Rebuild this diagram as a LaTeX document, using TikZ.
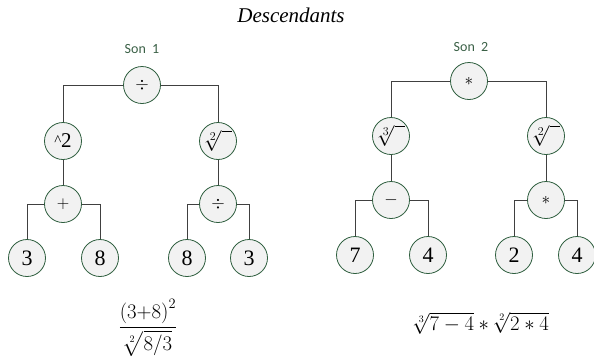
\documentclass[tikz,border=0pt]{standalone}
\usepackage{amsmath}
\usepackage{fontspec}
\setmainfont{Liberation Serif}
\newfontfamily\carl{Carlito}
\begin{document}
\begin{tikzpicture}[x=1pt,y=-1pt,
  opnode/.style={circle,draw=nodegreen,fill=nodefill,line width=0.8pt,minimum size=37pt,inner sep=0pt},
  leafnode/.style={opnode,font=\fontsize{22}{22}\selectfont},
  symnode/.style={opnode,font=\fontsize{18}{18}\selectfont},
  rootnode/.style={opnode,font=\fontsize{20.74}{21}\selectfont},
  conn/.style={draw=linegray,line width=0.9pt},
  sonlabel/.style={font=\carl\fontsize{14}{14}\selectfont,text=labelgreen},
  formula/.style={font=\fontsize{20}{20}\selectfont}]
\definecolor{nodegreen}{HTML}{2E5E3E}
\definecolor{nodefill}{HTML}{F2F2F2}
\definecolor{linegray}{HTML}{404040}
\definecolor{labelgreen}{HTML}{3A6046}
\useasboundingbox (0,0) rectangle (594,360);

\node[font=\itshape\fontsize{21}{21}\selectfont] (title) at (291,15) {Descendants};

% Son 1
\node[sonlabel] (s1) at (142,49) {Son\ \ 1};
\node[symnode] (r1) at (142,85) {$\div$};
\node[opnode] (pw) at (63,141) {\raisebox{2pt}{\fontsize{15}{15}\selectfont\^{}}\hspace{-0.5pt}{\fontsize{21}{21}\selectfont 2}};
\node[rootnode] (sq1) at (218,141) {$\sqrt[2]{\hphantom{i}\,}$};
\node[symnode] (pl) at (63,204) {$+$};
\node[symnode] (dv) at (218,204) {$\div$};
\node[leafnode] (a3) at (27,258) {3};
\node[leafnode] (a8) at (100,258) {8};
\node[leafnode] (b8) at (187,258) {8};
\node[leafnode] (b3) at (249,258) {3};

\draw[conn] (r1.west) -| (pw.north);
\draw[conn] (r1.east) -| (sq1.north);
\draw[conn] (pw.south) -- (pl.north);
\draw[conn] (sq1.south) -- (dv.north);
\draw[conn] (pl.west) -| (a3.north);
\draw[conn] (pl.east) -| (a8.north);
\draw[conn] (dv.west) -| (b8.north);
\draw[conn] (dv.east) -| (b3.north);

\node[formula] (f1) at (148,328) {$\dfrac{\left(3{+}8\right)^2}{\sqrt[2]{8/3}}$};

% Son 2
\node[sonlabel] (s2) at (471,47) {Son\ \ 2};
\node[symnode] (r2) at (469,81) {$*$};
\node[rootnode] (cb) at (391,136) {$\sqrt[3]{\hphantom{i}\,}$};
\node[rootnode] (sq2) at (546,136) {$\sqrt[2]{\hphantom{i}\,}$};
\node[symnode] (mn) at (391,200) {$-$};
\node[symnode] (ml) at (546,200) {$*$};
\node[leafnode] (c7) at (355,255) {7};
\node[leafnode] (c4) at (428,255) {4};
\node[leafnode] (d2) at (514,255) {2};
\node[leafnode] (d4) at (577,255) {4};

\draw[conn] (r2.west) -| (cb.north);
\draw[conn] (r2.east) -| (sq2.north);
\draw[conn] (cb.south) -- (mn.north);
\draw[conn] (sq2.south) -- (ml.north);
\draw[conn] (mn.west) -| (c7.north);
\draw[conn] (mn.east) -| (c4.north);
\draw[conn] (ml.west) -| (d2.north);
\draw[conn] (ml.east) -| (d4.north);

\node[formula] (f2) at (481,323) {$\sqrt[3]{7-4}*\sqrt[2]{2*4}$};
\end{tikzpicture}
\end{document}
